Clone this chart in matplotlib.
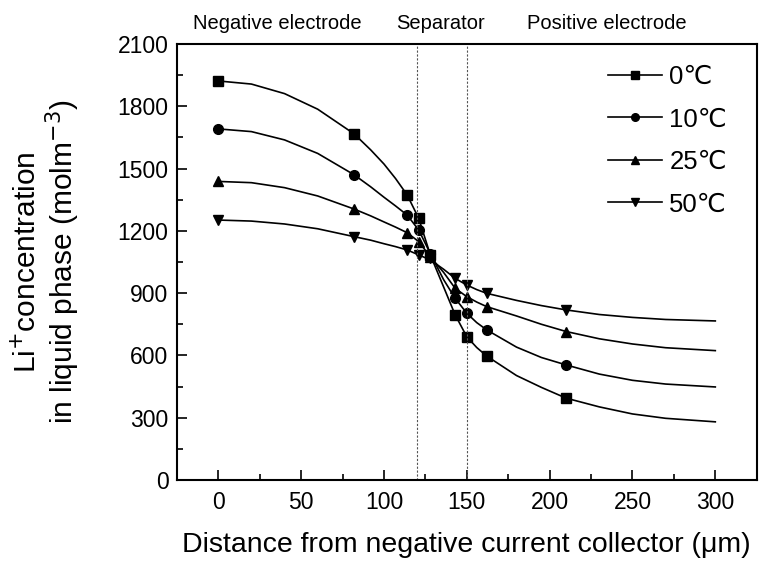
import matplotlib
matplotlib.use("Agg")
import matplotlib.pyplot as plt
from matplotlib.ticker import MultipleLocator

plt.rcParams['font.family'] = ['Liberation Sans', 'DejaVu Sans']

# marker positions (um) and values (mol m^-3)
x_mark = [0, 82, 114, 121, 128, 143, 150, 162, 210]
c0_mark = [1922, 1667, 1373, 1260, 1084, 795, 690, 597, 394]
c10_mark = [1691, 1470, 1276, 1204, 1090, 875, 803, 723, 554]
c25_mark = [1438, 1305, 1191, 1148, 1075, 923, 883, 835, 715]
c50_mark = [1252, 1172, 1108, 1084, 1068, 971, 939, 899, 819]

# fitted curves, read at more positions
x_line = [0, 20, 40, 60, 82, 92, 100, 107, 114, 121, 128, 136, 143, 150, 156, 162, 180, 195, 210, 230, 250, 270, 300]
c0_line = [1922, 1907, 1861, 1786, 1667, 1590, 1522, 1452, 1373, 1260, 1084, 930, 795, 690, 638, 597, 503, 446, 394, 352, 318, 297, 280]
c10_line = [1691, 1678, 1638, 1573, 1470, 1412, 1362, 1320, 1276, 1204, 1090, 965, 875, 803, 758, 723, 640, 590, 554, 510, 480, 462, 448]
c25_line = [1438, 1432, 1408, 1368, 1305, 1272, 1243, 1218, 1191, 1148, 1075, 1000, 923, 883, 857, 835, 790, 750, 715, 680, 655, 637, 623]
c50_line = [1252, 1247, 1233, 1210, 1172, 1155, 1138, 1124, 1108, 1084, 1060, 1015, 971, 939, 917, 899, 865, 840, 819, 797, 783, 773, 766]

labels = ['0\u2103', '10\u2103', '25\u2103', '50\u2103']
markers = ['s', 'o', '^', 'v']
msizes = [6.5, 7, 7, 7]

fig = plt.figure(figsize=(7.59, 5.64), dpi=100)
ax = fig.add_axes([0.233, 0.149, 0.764, 0.773])

series = [(c0_line, c0_mark), (c10_line, c10_mark), (c25_line, c25_mark), (c50_line, c50_mark)]
for (yl, ym), lab, mk, ms in zip(series, labels, markers, msizes):
    ax.plot(x_line, yl, color='black', lw=1.2)
    ax.plot(x_mark, ym, linestyle='none', marker=mk, color='black', ms=ms)
    # legend proxy
    ax.plot([], [], color='black', lw=1.2, marker=mk, ms=5.5, label=lab)

for xv in (120, 150):
    ax.axvline(xv, color='#555555', lw=0.8, ls=(0, (2, 1.5)))

ax.set_xlim(-25, 325)
ax.set_ylim(0, 2100)
ax.set_xticks(range(0, 301, 50))
ax.set_yticks(range(0, 2101, 300))
ax.xaxis.set_minor_locator(MultipleLocator(25))
ax.yaxis.set_minor_locator(MultipleLocator(150))
ax.tick_params(which='both', direction='in', labelsize=16.5, top=False, right=False)
ax.tick_params(which='major', length=7, width=1.2)
ax.tick_params(which='minor', length=4, width=1.2)
ax.tick_params(axis='x', pad=8)
ax.tick_params(axis='y', pad=6)
for s in ax.spines.values():
    s.set_linewidth(1.5)

ax.set_xlabel('Distance from negative current collector (\u03bcm)', fontsize=20.5, labelpad=13)
ax.set_ylabel('Li$^{+}$concentration\nin liquid phase (molm$^{-3}$)', fontsize=21.5, linespacing=1.05)
ax.yaxis.set_label_coords(-0.163, 0.5)

fig.text(0.366, 0.958, 'Negative electrode', fontsize=14.5, ha='center', va='center')
fig.text(0.581, 0.958, 'Separator', fontsize=14.5, ha='center', va='center')
fig.text(0.80, 0.958, 'Positive electrode', fontsize=14.5, ha='center', va='center')

ax.legend(loc='upper left', bbox_to_anchor=(0.743, 0.952), frameon=False, fontsize=18.5,
          handlelength=2.1, handletextpad=0.3, labelspacing=0.72,
          borderpad=0, borderaxespad=0)

fig.savefig('out.png', dpi=100)
